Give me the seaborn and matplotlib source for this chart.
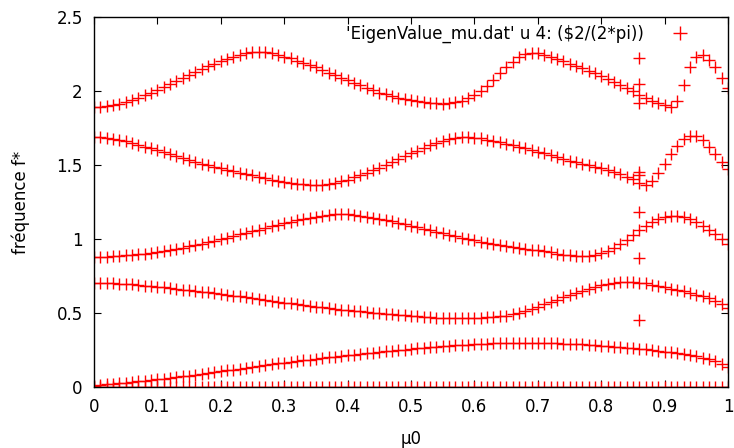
import numpy as np
import pandas as pd
import matplotlib
matplotlib.use("Agg")
import matplotlib.pyplot as plt
from matplotlib.lines import Line2D
import seaborn as sns

# parameter mu0, sampled every 0.01
mu0 = np.round(np.arange(0, 101) * 0.01, 2)

# eigen-frequencies f* = omega / (2*pi) for each mode
mode1 = [
    1.890, 1.893, 1.898, 1.905, 1.913, 1.925, 1.940, 1.955, 1.972, 1.990,
    2.010, 2.030, 2.050, 2.070, 2.090, 2.110, 2.130, 2.150, 2.167, 2.185,
    2.200, 2.215, 2.230, 2.242, 2.254, 2.261, 2.265, 2.262, 2.255, 2.245,
    2.232, 2.220, 2.205, 2.190, 2.175, 2.160, 2.142, 2.125, 2.107, 2.090,
    2.072, 2.055, 2.038, 2.021, 2.005, 1.990, 1.978, 1.966, 1.955, 1.946,
    1.938, 1.931, 1.925, 1.920, 1.916, 1.915, 1.918, 1.925, 1.936, 1.952,
    1.972, 2.000, 2.035, 2.075, 2.120, 2.162, 2.198, 2.228, 2.247, 2.256,
    2.255, 2.245, 2.230, 2.215, 2.200, 2.185, 2.170, 2.155, 2.138, 2.120,
    2.100, 2.080, 2.060, 2.040, 2.020, 2.000, 1.975, 1.955, 1.935, 1.920,
    1.905, 1.895, 1.935, 2.040, 2.160, 2.230, 2.245, 2.210, 2.160, 2.090,
    2.020,
]
mode2 = [
    1.690, 1.688, 1.685, 1.678, 1.670, 1.660, 1.650, 1.638, 1.625, 1.612,
    1.600, 1.585, 1.572, 1.558, 1.545, 1.532, 1.520, 1.508, 1.498, 1.488,
    1.478, 1.468, 1.458, 1.448, 1.438, 1.430, 1.420, 1.410, 1.402, 1.395,
    1.388, 1.380, 1.374, 1.370, 1.366, 1.365, 1.367, 1.372, 1.380, 1.390,
    1.402, 1.416, 1.432, 1.448, 1.465, 1.482, 1.500, 1.520, 1.540, 1.560,
    1.580, 1.598, 1.616, 1.634, 1.650, 1.664, 1.676, 1.685, 1.690, 1.690,
    1.686, 1.680, 1.672, 1.664, 1.655, 1.645, 1.635, 1.624, 1.613, 1.602,
    1.590, 1.578, 1.566, 1.554, 1.542, 1.530, 1.520, 1.510, 1.500, 1.490,
    1.478, 1.466, 1.452, 1.438, 1.422, 1.405, 1.382, 1.365, 1.395, 1.445,
    1.510, 1.575, 1.630, 1.675, 1.698, 1.695, 1.668, 1.622, 1.572, 1.520,
    1.470,
]
mode3 = [
    0.878, 0.879, 0.881, 0.883, 0.886, 0.889, 0.893, 0.897, 0.902, 0.908,
    0.914, 0.920, 0.927, 0.934, 0.942, 0.950, 0.959, 0.968, 0.978, 0.988,
    0.998, 1.009, 1.020, 1.031, 1.042, 1.053, 1.064, 1.075, 1.086, 1.097,
    1.108, 1.118, 1.128, 1.137, 1.145, 1.152, 1.158, 1.163, 1.166, 1.167,
    1.166, 1.163, 1.158, 1.152, 1.145, 1.137, 1.128, 1.119, 1.110, 1.100,
    1.090, 1.080, 1.070, 1.060, 1.050, 1.040, 1.030, 1.020, 1.010, 1.000,
    0.991, 0.982, 0.974, 0.966, 0.959, 0.952, 0.945, 0.939, 0.933, 0.928,
    0.923, 0.917, 0.910, 0.902, 0.895, 0.890, 0.886, 0.885, 0.887, 0.894,
    0.905, 0.920, 0.940, 0.965, 0.995, 1.028, 1.060, 1.090, 1.115, 1.135,
    1.150, 1.158, 1.158, 1.150, 1.135, 1.115, 1.090, 1.062, 1.032, 1.000,
    0.965,
]
mode4 = [
    0.705, 0.704, 0.703, 0.701, 0.699, 0.696, 0.693, 0.690, 0.686, 0.682,
    0.678, 0.674, 0.669, 0.664, 0.659, 0.654, 0.649, 0.644, 0.639, 0.634,
    0.629, 0.623, 0.618, 0.612, 0.606, 0.600, 0.594, 0.588, 0.582, 0.576,
    0.570, 0.565, 0.560, 0.554, 0.549, 0.544, 0.539, 0.534, 0.529, 0.524,
    0.520, 0.515, 0.511, 0.507, 0.503, 0.499, 0.495, 0.491, 0.487, 0.484,
    0.481, 0.478, 0.475, 0.472, 0.470, 0.468, 0.466, 0.465, 0.465, 0.466,
    0.467, 0.469, 0.471, 0.473, 0.477, 0.483, 0.492, 0.503, 0.516, 0.529,
    0.543, 0.558, 0.574, 0.590, 0.606, 0.621, 0.636, 0.651, 0.665, 0.678,
    0.689, 0.698, 0.704, 0.708, 0.709, 0.708, 0.705, 0.700, 0.692, 0.683,
    0.674, 0.665, 0.656, 0.646, 0.636, 0.625, 0.613, 0.599, 0.583, 0.563,
    0.535,
]
mode5 = [
    0.010, 0.014, 0.018, 0.022, 0.026, 0.030, 0.034, 0.039, 0.043, 0.048,
    0.052, 0.057, 0.062, 0.067, 0.072, 0.077, 0.083, 0.088, 0.094, 0.100,
    0.106, 0.112, 0.118, 0.124, 0.130, 0.136, 0.142, 0.148, 0.154, 0.160,
    0.166, 0.171, 0.176, 0.181, 0.186, 0.191, 0.196, 0.201, 0.205, 0.210,
    0.214, 0.219, 0.223, 0.228, 0.232, 0.237, 0.241, 0.245, 0.249, 0.253,
    0.257, 0.261, 0.265, 0.268, 0.272, 0.275, 0.278, 0.281, 0.284, 0.287,
    0.289, 0.291, 0.293, 0.295, 0.297, 0.298, 0.299, 0.300, 0.300, 0.300,
    0.300, 0.299, 0.298, 0.296, 0.294, 0.292, 0.290, 0.288, 0.285, 0.283,
    0.280, 0.277, 0.274, 0.270, 0.266, 0.262, 0.258, 0.254, 0.250, 0.245,
    0.240, 0.235, 0.229, 0.222, 0.215, 0.207, 0.198, 0.188, 0.175, 0.158,
    0.135,
]
# rigid-body mode stays at zero frequency over the whole range
mode0 = [
    0.0, 0.0, 0.0, 0.0, 0.0, 0.0, 0.0, 0.0, 0.0, 0.0,
    0.0, 0.0, 0.0, 0.0, 0.0, 0.0, 0.0, 0.0, 0.0, 0.0,
    0.0, 0.0, 0.0, 0.0, 0.0, 0.0, 0.0, 0.0, 0.0, 0.0,
    0.0, 0.0, 0.0, 0.0, 0.0, 0.0, 0.0, 0.0, 0.0, 0.0,
    0.0, 0.0, 0.0, 0.0, 0.0, 0.0, 0.0, 0.0, 0.0, 0.0,
    0.0, 0.0, 0.0, 0.0, 0.0, 0.0, 0.0, 0.0, 0.0, 0.0,
    0.0, 0.0, 0.0, 0.0, 0.0, 0.0, 0.0, 0.0, 0.0, 0.0,
    0.0, 0.0, 0.0, 0.0, 0.0, 0.0, 0.0, 0.0, 0.0, 0.0,
    0.0, 0.0, 0.0, 0.0, 0.0, 0.0, 0.0, 0.0, 0.0, 0.0,
    0.0, 0.0, 0.0, 0.0, 0.0, 0.0, 0.0, 0.0, 0.0, 0.0,
    0.0,
]
# spurious solutions returned by the solver at mu0 = 0.86
spurious_mu0 = [0.86, 0.86, 0.86, 0.86, 0.86, 0.86, 0.86, 0.86]
spurious_f = [2.22, 2.05, 1.92, 1.455, 1.43, 1.18, 0.87, 0.45]

x_ticks = [0, 0.1, 0.2, 0.3, 0.4, 0.5, 0.6, 0.7, 0.8, 0.9, 1]
x_tick_labels = ["0", "0.1", "0.2", "0.3", "0.4", "0.5", "0.6", "0.7", "0.8", "0.9", "1"]
y_ticks = [0, 0.5, 1, 1.5, 2, 2.5]
y_tick_labels = ["0", "0.5", "1", "1.5", "2", "2.5"]
series_label = "'EigenValue_mu.dat' u 4: (\\$2/(2*pi))"

modes = [mode0, mode1, mode2, mode3, mode4, mode5]
frames = [pd.DataFrame({"mu0": mu0, "freq": m}) for m in modes]
frames.append(pd.DataFrame({"mu0": spurious_mu0, "freq": spurious_f}))
df = pd.concat(frames, ignore_index=True)

sns.set_theme(style="ticks")
plt.rcParams["font.family"] = ["DejaVu Sans"]
plt.rcParams["text.color"] = "black"
plt.rcParams["axes.labelcolor"] = "black"

fig = plt.figure(figsize=(7.34, 4.48), dpi=100)
ax = fig.add_axes([0.128, 0.136, 0.864, 0.826])

red = "#ff0000"
sns.scatterplot(data=df, x="mu0", y="freq", marker="+", color=red,
                s=80, linewidth=1.0, legend=False, ax=ax, zorder=3)

ax.set_xlim(0, 1)
ax.set_ylim(0, 2.5)
ax.set_xticks(x_ticks)
ax.set_xticklabels(x_tick_labels)
ax.set_yticks(y_ticks)
ax.set_yticklabels(y_tick_labels)
ax.tick_params(direction="in", length=5, width=0.8, top=True, right=True,
               labelsize=12, colors="black")
ax.tick_params(axis="x", pad=8)
ax.tick_params(axis="y", pad=8)
for side in ax.spines.values():
    side.set_color("black")
    side.set_linewidth(1.0)
    side.set_zorder(4)

ax.set_xlabel("µ0", fontsize=12, labelpad=10, color="black")
ax.set_ylabel("fréquence f*", fontsize=12, labelpad=19, color="black")

handle = Line2D([], [], linestyle="none", marker="+", color=red,
                markersize=10, markeredgewidth=1.0)
leg = ax.legend([handle], [series_label], loc="upper right", frameon=False,
                markerfirst=False, fontsize=12, handlelength=2.8,
                bbox_to_anchor=(0.973, 1.0), borderaxespad=0.05)
for txt in leg.get_texts():
    txt.set_color("black")

fig.savefig("out.png", dpi=100)
